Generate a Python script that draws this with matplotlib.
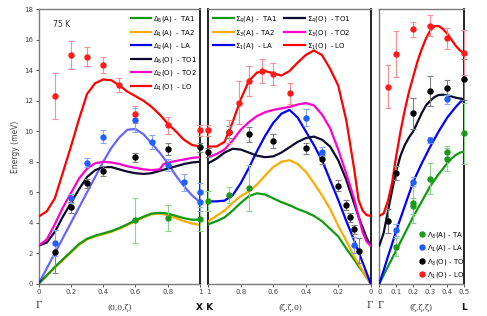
"""
Phonon dispersion at 75 K along Gamma-X, K-Gamma and Gamma-L.
Lines: calculated branches, dots: measured energies with error bars.
"""

import matplotlib
matplotlib.use('Agg')
import matplotlib.pyplot as plt
from matplotlib.lines import Line2D

# ── Gamma-X (0,0,zeta): calculated branches ─────────────────────────────────
gx_z = [0, 0.05, 0.1, 0.15, 0.2, 0.25, 0.3, 0.35, 0.4, 0.45, 0.5,
        0.55, 0.6, 0.65, 0.7, 0.75, 0.8, 0.85, 0.9, 0.95, 1.0]
gx_ta1 = [0, 0.55, 1.1, 1.6, 2.1, 2.6, 2.95, 3.15, 3.3, 3.45, 3.65,
          3.9, 4.15, 4.4, 4.6, 4.65, 4.6, 4.45, 4.3, 4.2, 4.2]
gx_ta2 = [0, 0.5, 1.05, 1.55, 2.05, 2.55, 2.9, 3.1, 3.25, 3.4, 3.6,
          3.85, 4.1, 4.35, 4.55, 4.6, 4.5, 4.3, 4.1, 3.95, 3.85]
gx_la = [0, 1.0, 2.0, 3.0, 4.0, 5.0, 6.0, 7.0, 8.0, 8.9, 9.6,
         10.1, 10.15, 9.8, 9.2, 8.6, 7.9, 7.1, 6.4, 5.8, 5.35]
gx_to1 = [2.5, 2.7, 3.4, 4.4, 5.3, 6.2, 7.0, 7.45, 7.65, 7.65, 7.5,
          7.35, 7.25, 7.2, 7.25, 7.4, 7.55, 7.7, 7.85, 7.95, 8.0]
gx_lo = [4.4, 4.75, 5.6, 7.3, 9.0, 10.8, 12.45, 13.15, 13.4, 13.35, 13.0,
         12.6, 12.3, 12.0, 11.6, 11.1, 10.5, 10.0, 9.45, 9.1, 9.0]
gx_to2_z = [0, 0.05, 0.1, 0.15, 0.2, 0.25, 0.3, 0.35, 0.4, 0.45, 0.5,
            0.55, 0.6, 0.65, 0.7, 0.75, 0.775, 0.8, 0.85, 0.9, 0.95, 1.0]
gx_to2 = [2.5, 2.9, 3.9, 5.0, 5.95, 6.9, 7.55, 7.9, 8.0, 7.95, 7.85,
          7.7, 7.6, 7.5, 7.45, 7.5, 7.85, 7.95, 8.05, 8.15, 8.25, 8.3]

# ── Gamma-X: measured ───────────────────────────────────────────────────────
gx_red_z = [0.1, 0.2, 0.3, 0.4, 0.5, 0.6, 0.8, 1.0]
gx_red_e = [12.3, 15.0, 14.9, 14.35, 13.05, 11.1, 10.4, 10.05]
gx_red_d = [1.5, 0.9, 0.6, 0.5, 0.45, 0.55, 0.55, 0.35]
gx_blue_z = [0.1, 0.2, 0.3, 0.4, 0.6, 0.7, 0.8, 0.9, 1.0, 1.0]
gx_blue_e = [2.65, 5.6, 7.95, 9.65, 10.75, 9.3, 7.8, 6.65, 6.0, 5.35]
gx_blue_d = [0.85, 0.3, 0.3, 0.4, 0.8, 0.45, 0.4, 0.55, 0.6, 0.6]
gx_blk_z = [0.1, 0.2, 0.3, 0.4, 0.6, 0.8, 1.0]
gx_blk_e = [2.1, 5.0, 6.6, 7.4, 8.3, 8.85, 8.95]
gx_blk_d = [1.4, 0.35, 0.3, 0.35, 0.3, 0.4, 0.3]
gx_grn_z = [0.6, 0.8, 1.0]
gx_grn_e = [4.15, 4.3, 4.25]
gx_grn_d = [1.5, 0.85, 0.8]

# ── K-Gamma (zeta,zeta,0): calculated branches ──────────────────────────────
kg_z = [1.0, 0.95, 0.9, 0.85, 0.8, 0.75, 0.7, 0.65, 0.6, 0.55, 0.5,
        0.45, 0.4, 0.35, 0.3, 0.25, 0.2, 0.15, 0.1, 0.075, 0.05, 0.025, 0]
kg_ta1 = [3.9, 4.1, 4.35, 4.8, 5.3, 5.75, 5.93, 5.85, 5.6, 5.35, 5.15,
          4.9, 4.7, 4.45, 4.1, 3.6, 3.1, 2.3, 1.55, 1.15, 0.8, 0.4, 0]
kg_ta2 = [4.1, 4.45, 4.8, 5.3, 5.75, 6.05, 6.5, 7.1, 7.65, 8.0, 8.1,
          7.85, 7.35, 6.6, 5.8, 4.9, 3.8, 2.8, 1.75, 1.3, 0.85, 0.42, 0]
kg_la = [5.4, 5.4, 5.45, 5.8, 6.6, 7.6, 8.7, 9.7, 10.55, 11.15, 11.4,
         10.9, 10.0, 9.1, 8.1, 6.8, 5.5, 4.1, 2.8, 2.1, 1.4, 0.7, 0]
kg_to1 = [7.9, 8.2, 8.6, 8.85, 8.8, 8.6, 8.4, 8.3, 8.35, 8.6, 8.95,
          9.3, 9.55, 9.65, 9.45, 9.0, 8.1, 6.8, 5.2, 4.4, 3.7, 3.0, 2.5]
kg_to2 = [8.3, 8.5, 8.8, 9.4, 10.1, 10.6, 11.0, 11.25, 11.4, 11.5, 11.6,
          11.75, 11.85, 11.7, 11.1, 10.2, 8.8, 7.2, 5.5, 4.4, 3.4, 2.75, 2.5]
kg_lo = [9.0, 9.0, 9.3, 10.6, 12.1, 13.3, 13.85, 13.95, 13.8, 13.65, 13.95,
         14.5, 15.0, 15.3, 15.0, 14.1, 13.0, 10.7, 7.4, 5.5, 4.8, 4.5, 4.45]

# ── K-Gamma: measured ───────────────────────────────────────────────────────
kg_red_z = [1.0, 0.87, 0.81, 0.75, 0.67, 0.6, 0.5]
kg_red_e = [10.05, 9.97, 11.88, 13.3, 13.96, 13.76, 12.49]
kg_red_d = [0.35, 0.75, 1.4, 1.0, 0.8, 0.7, 0.7]
kg_blk_z = [1.0, 0.87, 0.75, 0.6, 0.4, 0.3, 0.2, 0.15, 0.125, 0.1, 0.075]
kg_blk_e = [8.62, 9.93, 9.8, 9.36, 8.88, 8.16, 6.43, 5.16, 4.36, 3.57, 2.17]
kg_blk_d = [0.3, 0.4, 0.5, 0.45, 0.35, 0.3, 0.35, 0.3, 0.3, 0.3, 0.8]
kg_blue_z = [0.4, 0.3, 0.1]
kg_blue_e = [10.9, 8.66, 2.54]
kg_blue_d = [0.55, 0.3, 0.5]
kg_grn_z = [1.0, 0.87, 0.75]
kg_grn_e = [5.42, 5.82, 6.26]
kg_grn_d = [0.65, 0.5, 1.5]

# ── Gamma-L (zeta,zeta,zeta): calculated branches ───────────────────────────
gl_z = [0, 0.025, 0.05, 0.075, 0.1, 0.125, 0.15, 0.175, 0.2, 0.225, 0.25,
        0.275, 0.3, 0.325, 0.35, 0.375, 0.4, 0.425, 0.45, 0.475, 0.5]
gl_ta = [0, 0.55, 1.1, 1.65, 2.2, 2.75, 3.3, 3.85, 4.4, 4.9, 5.4,
         5.9, 6.4, 6.8, 7.2, 7.55, 7.9, 8.2, 8.45, 8.6, 8.66]
gl_la = [0, 0.85, 1.75, 2.6, 3.5, 4.3, 5.1, 5.9, 6.7, 7.3, 7.9,
         8.45, 9.0, 9.5, 10.0, 10.45, 10.9, 11.25, 11.6, 11.9, 12.15]
gl_to = [2.5, 3.3, 4.7, 6.1, 7.4, 8.4, 9.1, 9.6, 10.0, 10.6, 11.2,
         11.7, 12.0, 12.25, 12.38, 12.4, 12.35, 12.28, 12.2, 12.15, 12.1]
gl_lo = [4.45, 4.6, 5.4, 6.6, 8.4, 10.0, 11.4, 12.6, 13.6, 14.6, 15.4,
         16.1, 16.6, 16.9, 16.9, 16.7, 16.4, 16.0, 15.6, 15.3, 15.1]

# ── Gamma-L: measured ───────────────────────────────────────────────────────
gl_red_z = [0.05, 0.1, 0.2, 0.3, 0.4, 0.5]
gl_red_e = [12.93, 15.05, 16.69, 16.93, 16.1, 15.16]
gl_red_d = [1.4, 1.5, 0.5, 0.7, 0.7, 1.5]
gl_blk_z = [0.05, 0.1, 0.2, 0.3, 0.4, 0.5]
gl_blk_e = [4.11, 7.28, 11.18, 12.64, 12.86, 13.4]
gl_blk_d = [0.8, 0.45, 1.0, 1.0, 0.5, 1.35]
gl_blue_z = [0.1, 0.2, 0.3, 0.4]
gl_blue_e = [3.52, 6.7, 9.43, 12.1]
gl_blue_d = [0.4, 0.3, 0.2, 0.3]
gl_grn_z = [0.1, 0.2, 0.2, 0.3, 0.4, 0.4, 0.5]
gl_grn_e = [2.43, 5.27, 5.1, 6.9, 8.16, 8.66, 9.87]
gl_grn_d = [0.6, 1.3, 0.5, 1.0, 0.77, 0.4, 2.0]

# colours
C_TA1, C_TA2, C_LA = '#119911', '#ffaa00', '#0000ff'
C_TO1, C_TO2, C_LO = '#0b0b2e', '#ff00cc', '#ff0000'
PT = {'red': ('#ff1a1a', '#f59090'), 'blue': ('#1f5fff', '#88a8f5'),
      'black': ('#000000', '#808080'), 'green': ('#1a9a1a', '#8fd08f')}

W, H = 487, 316
fig = plt.figure(figsize=(W / 100, H / 100), dpi=100)
bot, top = 283.7, 9.3


def make_ax(x0, x1):
    ax = fig.add_axes([x0 / W, 1 - bot / H, (x1 - x0) / W, (bot - top) / H])
    ax.set_ylim(0, 18)
    for s in ax.spines.values():
        s.set_color('#7a7a7a')
        s.set_linewidth(1.0)
    ax.tick_params(direction='out', length=2.5, width=0.7, colors='#555555',
                   labelsize=5, pad=1.5, labelcolor='#444444')
    return ax


ax1 = make_ax(38.7, 200.0)
ax2 = make_ax(208.3, 370.7)
ax3 = make_ax(379.3, 464.3)

ax1.set_xlim(0, 1)
ax2.set_xlim(1, 0)
ax3.set_xlim(0, 0.5)
ax1.set_xticks([0, 0.2, 0.4, 0.6, 0.8, 1])
ax1.set_xticklabels(['0', '0.2', '0.4', '0.6', '0.8', '1'])
ax2.set_xticks([1, 0.8, 0.6, 0.4, 0.2, 0])
ax2.set_xticklabels(['1', '0.8', '0.6', '0.4', '0.2', '0'])
ax3.set_xticks([0, 0.1, 0.2, 0.3, 0.4, 0.5])
ax3.set_xticklabels(['0', '0.1', '0.2', '0.3', '0.4', '0.5'])
ax1.set_yticks(range(0, 19, 2))
for ax in (ax2, ax3):
    ax.set_yticks([])
ax1.spines['right'].set_color('#111111')
ax1.spines['right'].set_linewidth(1.3)
ax2.spines['left'].set_color('#111111')
ax2.spines['left'].set_linewidth(1.3)
ax2.spines['right'].set_color('#111111')
ax2.spines['right'].set_linewidth(1.3)
ax3.spines['right'].set_color('#111111')
ax3.spines['right'].set_linewidth(1.3)

LW = 1.6


def points(ax, z, e, d, key):
    c, ec = PT[key]
    ax.errorbar(z, e, yerr=d, fmt='o', ms=3.6, color=c, ecolor=ec,
                elinewidth=0.8, capsize=2.2, capthick=0.8, zorder=5,
                clip_on=False)


# ── panel 1 ────────────────────────────────────────────────────────────────
ax1.plot(gx_z, gx_ta2, color=C_TA2, lw=LW, label=r'$\Delta_1$(A)  - TA2', zorder=2)
ax1.plot(gx_z, gx_ta1, color=C_TA1, lw=LW, label=r'$\Delta_5$(A) -  TA1', zorder=3)
ax1.plot(gx_z, gx_la, color=C_LA, lw=LW, alpha=0.6, label=r'$\Delta_2$(A)  - LA', zorder=3)
ax1.plot(gx_z, gx_to1, color=C_TO1, lw=LW, label=r'$\Delta_5$(O)  - TO1', zorder=3)
ax1.plot(gx_to2_z, gx_to2, color=C_TO2, lw=LW, label=r'$\Delta_2$(O)  - TO2', zorder=3)
ax1.plot(gx_z, gx_lo, color=C_LO, lw=LW, label=r'$\Delta_1$(O)  - LO', zorder=3)
points(ax1, gx_grn_z, gx_grn_e, gx_grn_d, 'green')
points(ax1, gx_blk_z, gx_blk_e, gx_blk_d, 'black')
points(ax1, gx_blue_z, gx_blue_e, gx_blue_d, 'blue')
points(ax1, gx_red_z, gx_red_e, gx_red_d, 'red')

h, l = ax1.get_legend_handles_labels()
order = [1, 0, 2, 3, 4, 5]
leg1 = ax1.legend([h[i] for i in order], [l[i] for i in order], loc='upper right',
                  bbox_to_anchor=(1.01, 1.0), frameon=False, fontsize=5,
                  handlelength=3.0, handletextpad=0.2, labelspacing=0.5,
                  borderaxespad=0.3)
for hd in leg1.legend_handles:
    hd.set_alpha(1)
ax1.text(0.09, 0.945, '75 K', transform=ax1.transAxes, fontsize=5.5,
         color='#333333', va='center')

# ── panel 2 ────────────────────────────────────────────────────────────────
ax2.plot(kg_z, kg_ta1, color=C_TA1, lw=LW, label=r'$\Sigma_4$(A) -  TA1', zorder=3)
ax2.plot(kg_z, kg_ta2, color=C_TA2, lw=LW, label=r'$\Sigma_3$(A) - TA2', zorder=3)
ax2.plot(kg_z, kg_la, color=C_LA, lw=LW, label=r'$\Sigma_1$(A)  - LA', zorder=3)
ax2.plot(kg_z, kg_to1, color=C_TO1, lw=LW, label=r'$\Sigma_4$(O)  - TO1', zorder=3)
ax2.plot(kg_z, kg_to2, color=C_TO2, lw=LW, label=r'$\Sigma_3$(O)  - TO2', zorder=3)
ax2.plot(kg_z, kg_lo, color=C_LO, lw=LW, label=r'$\Sigma_1$(O)  - LO', zorder=3)
points(ax2, kg_grn_z, kg_grn_e, kg_grn_d, 'green')
points(ax2, kg_blk_z, kg_blk_e, kg_blk_d, 'black')
points(ax2, kg_blue_z, kg_blue_e, kg_blue_d, 'blue')
points(ax2, kg_red_z, kg_red_e, kg_red_d, 'red')
ax2.legend(loc='upper left', ncol=2, frameon=False, fontsize=5,
           handlelength=3.0, handletextpad=0.2, labelspacing=0.5,
           columnspacing=1.0, borderaxespad=0.3)

# ── panel 3 ────────────────────────────────────────────────────────────────
ax3.plot(gl_z, gl_ta, color=C_TA1, lw=LW, zorder=3)
ax3.plot(gl_z, gl_la, color=C_LA, lw=LW, zorder=3)
ax3.plot(gl_z, gl_to, color=C_TO1, lw=LW, zorder=3)
ax3.plot(gl_z, gl_lo, color=C_LO, lw=LW, zorder=3)
points(ax3, gl_grn_z, gl_grn_e, gl_grn_d, 'green')
points(ax3, gl_blk_z, gl_blk_e, gl_blk_d, 'black')
points(ax3, gl_blue_z, gl_blue_e, gl_blue_d, 'blue')
points(ax3, gl_red_z, gl_red_e, gl_red_d, 'red')
proxies = [Line2D([], [], ls='none', marker='o', ms=3.6, color=PT[k][0])
           for k in ('green', 'blue', 'black', 'red')]
ax3.legend(proxies, [r'$\Lambda_3$(A) - TA', r'$\Lambda_1$(A) - LA',
                     r'$\Lambda_3$(O) - TO', r'$\Lambda_1$(O) - LO'],
           loc='lower right', bbox_to_anchor=(1.06, -0.005), frameon=False,
           fontsize=5, handlelength=1.0, handletextpad=0.3, labelspacing=0.5,
           borderaxespad=0.3)

# ── axis text ──────────────────────────────────────────────────────────────
ax1.set_ylabel('Energy (meV)', fontsize=5.5, color='#444444', labelpad=3)


def ftext(x, y, s, **kw):
    fig.text(x / W, 1 - y / H, s, ha='center', va='center', **kw)


serif = dict(family='DejaVu Serif', fontsize=6.5, color='#333333')
ftext(38.7, 305, 'Γ', **serif)
ftext(370.0, 305, 'Γ', **serif)
ftext(380.5, 305, 'Γ', **serif)
ftext(120, 308, '(0,0,ζ)', family='DejaVu Serif', fontsize=5.5, color='#333333')
ftext(290, 308, '(ζ,ζ,0)', family='DejaVu Serif', fontsize=5.5, color='#333333')
ftext(421, 308, '(ζ,ζ,ζ)', family='DejaVu Serif', fontsize=5.5, color='#333333')
ftext(204.5, 308, 'X K', fontsize=6.5, fontweight='bold', color='#111111')
ftext(464.3, 308, 'L', fontsize=6.5, fontweight='bold', color='#111111')

fig.savefig('out.png', dpi=100)
